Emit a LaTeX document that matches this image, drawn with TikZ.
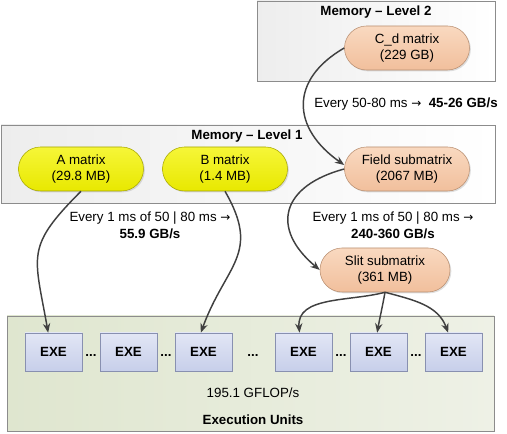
\documentclass[tikz,border=0pt]{standalone}
\usepackage{fontspec}
\setmainfont{Liberation Sans}
\newfontfamily\arrowfont{DejaVu Sans}
\usetikzlibrary{arrows.meta,shadows}
\newcommand{\rarr}{{\arrowfont\fontsize{9}{12}\selectfont →}}
\definecolor{linegray}{HTML}{404040}
\definecolor{boxline}{HTML}{8C8C8C}
\definecolor{yellowtop}{HTML}{F6F638}
\definecolor{yellowbot}{HTML}{E8E800}
\definecolor{yellowline}{HTML}{A6A600}
\definecolor{peachtop}{HTML}{F9D9C0}
\definecolor{peachbot}{HTML}{F1BF9C}
\definecolor{peachline}{HTML}{B88E70}
\definecolor{exetop}{HTML}{E2E6F5}
\definecolor{exebot}{HTML}{C7CFEA}
\definecolor{exeline}{HTML}{8890B0}
\definecolor{unitleft}{HTML}{DFE6CF}
\definecolor{unitright}{HTML}{EEF1E6}

\begin{document}
\begin{tikzpicture}[x=0.75pt, y=0.75pt,
    every node/.style={font=\fontsize{10}{12.5}\selectfont, align=center},
    shade/.style={drop shadow={shadow xshift=1pt, shadow yshift=-1pt, opacity=0.25}},
    membox/.style={draw=boxline, left color=gray!14, right color=white, shade},
    unitbox/.style={draw=boxline, left color=unitleft, right color=unitright, shade},
    title/.style={font=\fontsize{10}{12}\selectfont\bfseries},
    matnode/.style={draw, rounded corners=16.5pt, minimum width=93.75pt, minimum height=33pt, shade},
    yellowmat/.style={matnode, draw=yellowline, top color=yellowtop, bottom color=yellowbot},
    peachmat/.style={matnode, draw=peachline, top color=peachtop, bottom color=peachbot},
    exe/.style={draw=exeline, top color=exetop, bottom color=exebot, minimum width=42.75pt,
        minimum height=28.5pt, font=\fontsize{10}{12}\selectfont\bfseries, shade},
    conn/.style={-{Stealth[length=7pt, width=5.5pt]}, draw=linegray, line width=1.1pt}]
  \useasboundingbox (0,0) rectangle (507,434);

  % Memory levels and execution units
  \draw[membox] (257,433) rectangle (495,353);
  \draw[membox] (1,309) rectangle (495,231);
  \draw[unitbox] (7,118) rectangle (494,3);
  \node[title] (l2title) at (376,422) {Memory -- Level 2};
  \node[title] (l1title) at (247,298) {Memory -- Level 1};
  \node[title] (eutitle) at (253,14) {Execution Units};
  \node (gflop) at (253,41) {195.1 GFLOP/s};

  % Matrices
  \node[peachmat] (cd) at (407,386) {C\_d matrix\\(229 GB)};
  \node[yellowmat] (amat) at (81,265) {A matrix\\(29.8 MB)};
  \node[yellowmat] (bmat) at (225,265) {B matrix\\(1.4 MB)};
  \node[peachmat] (field) at (407,265) {Field submatrix\\(2067 MB)};
  \node[peachmat, minimum width=97.5pt] (slit) at (385,164) {Slit submatrix\\(361 MB)};

  % Execution units
  \foreach \i/\x in {1/53.5, 2/128.5, 3/203.5, 4/303.5, 5/378.5, 6/453.5}
    \node[exe] (e\i) at (\x,82) {EXE};
  \foreach \i/\x in {1/91, 2/166, 3/253, 4/341, 5/416}
    \node[anchor=base] (dots\i) at (\x,77.5) {\textbf{...}};

  % Transfer rates
  \node (rate2) at (406,330) {Every 50-80 ms \rarr\ \ \textbf{45-26 GB/s}};
  \node (rate1a) at (150,208.5) {Every 1 ms of 50 | 80 ms \rarr\\\textbf{55.9 GB/s}};
  \node (rate1b) at (393,208.5) {Every 1 ms of 50 | 80 ms \rarr\\\textbf{240-360 GB/s}};

  % Data movement
  \draw[conn] (cd.west) to[out=210, in=145, looseness=1.4] ([yshift=3pt]field.west);
  \draw[conn] (field.west) to[out=195, in=140, looseness=1.6] (slit.west);
  \draw[conn] (amat.south) to[out=225, in=100, looseness=1.4] ([xshift=-4pt]e1.north);
  \draw[conn] (bmat.south) to[out=-60, in=70, looseness=1.3] ([xshift=-2pt]e3.north);
  \draw[conn] (slit.south) to[out=195, in=95] ([xshift=-3pt]e4.north);
  \draw[conn] (slit.south) to[out=-100, in=80] ([xshift=-1pt]e5.north);
  \draw[conn] (slit.south) to[out=-15, in=110] ([xshift=-4pt]e6.north);
\end{tikzpicture}
\end{document}
